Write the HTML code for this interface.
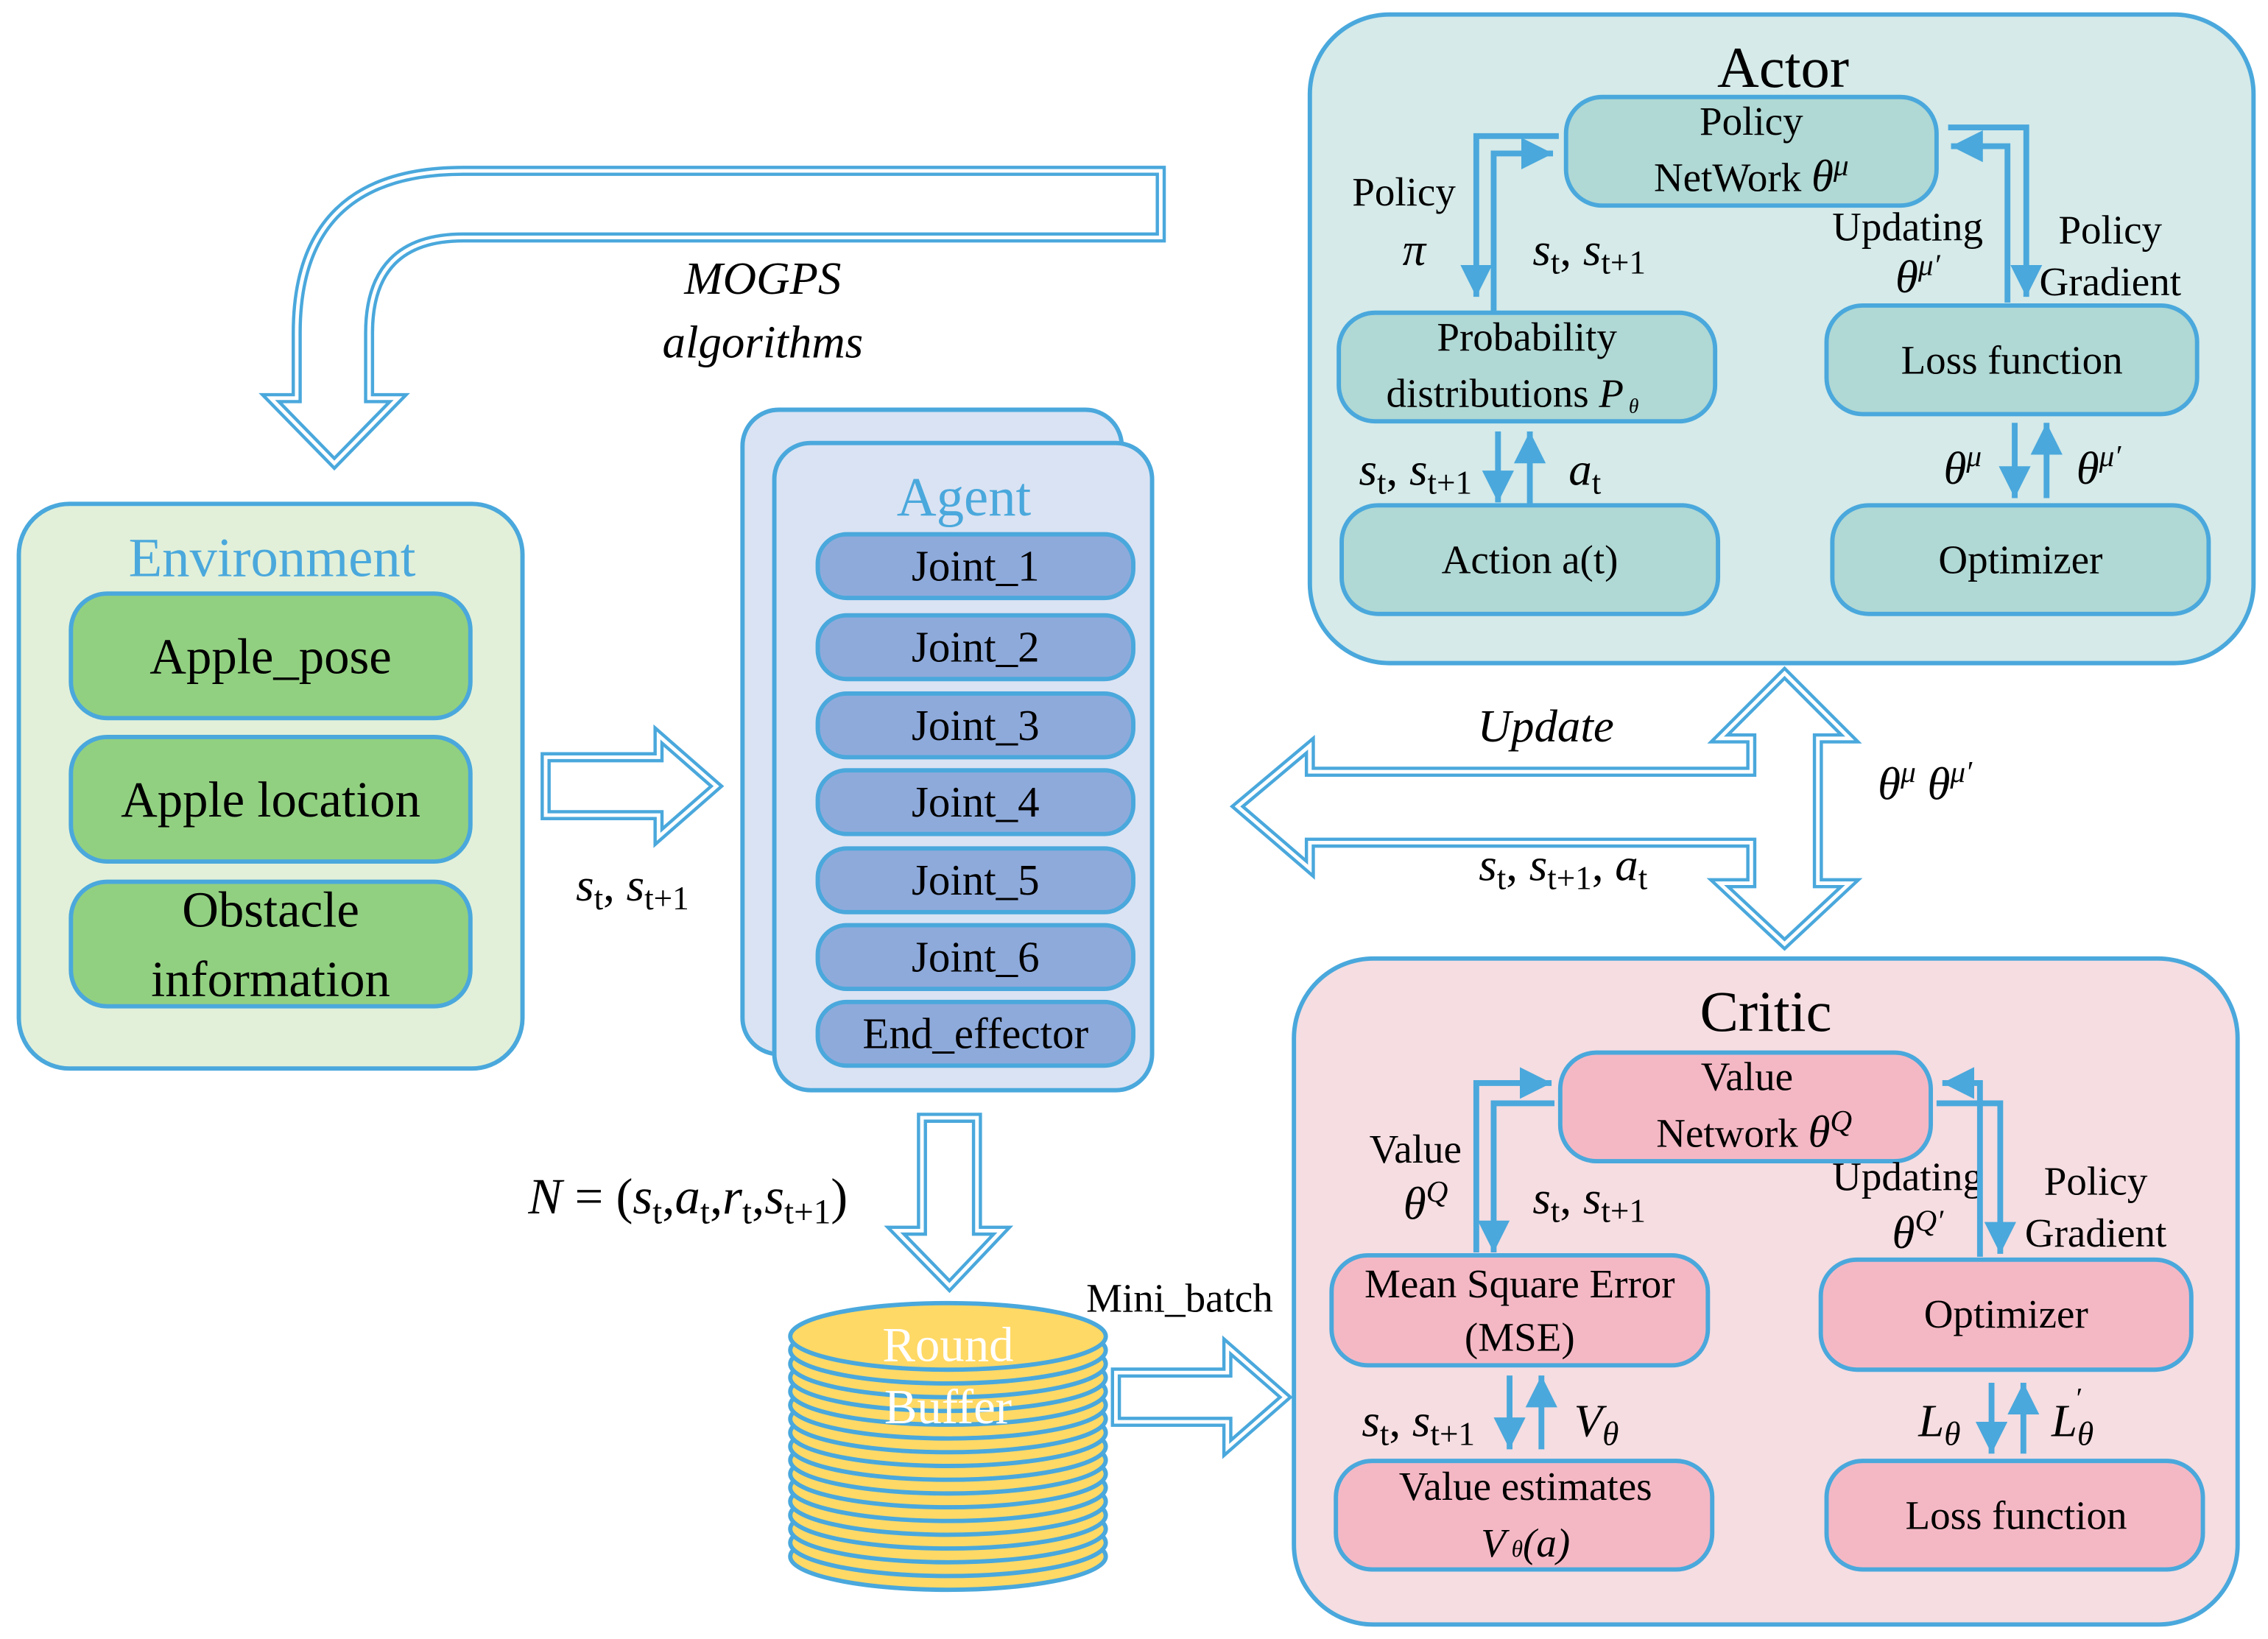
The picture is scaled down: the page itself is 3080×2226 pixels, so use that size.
<!DOCTYPE html>
<html><head><meta charset="utf-8"><style>
html,body{margin:0;padding:0;background:#fff;}
svg{display:block;}
text{font-family:"Liberation Serif",serif;fill:#000;}
</style></head><body>
<svg width="3080" height="2226" viewBox="0 0 1567 1132" preserveAspectRatio="none" xmlns="http://www.w3.org/2000/svg">
<defs>
<marker id="ah" markerWidth="24" markerHeight="22" refX="22" refY="11" orient="auto" markerUnits="userSpaceOnUse"><path d="M0,0 L22,11 L0,22z" fill="#4aa8dc"/></marker>
</defs>
<g stroke="#4aa8dc" fill="none">
<path id="p1" d="M802,118 L320,118 Q205,118 205,230 L205,275 L187,275 L231,320 L275,275 L255,275 L255,230 Q255,164 320,164 L802,164 Z" stroke-width="7"/>
<path d="M377,523 L455,523 L455,508 L495,543 L455,578 L455,563 L377,563 Z" stroke-width="7"/>
<path d="M637,772 L675,772 L675,850 L692,850 L656,888 L619,850 L637,850 Z" stroke-width="7"/>
<path d="M771,948 L848,948 L848,930 L888,965 L848,1000 L848,982 L771,982 Z" stroke-width="7"/>
<path d="M855,557 L905,515 L905,533 L1210,533 L1210,510 L1188,510 L1233,465 L1278,510 L1256,510 L1256,610 L1278,610 L1233,652 L1188,610 L1210,610 L1210,582 L905,582 L905,600 Z" stroke-width="7"/>
</g>
<g stroke="#fff" fill="none" stroke-width="2.5">
<path d="M802,118 L320,118 Q205,118 205,230 L205,275 L187,275 L231,320 L275,275 L255,275 L255,230 Q255,164 320,164 L802,164 Z"/>
<path d="M377,523 L455,523 L455,508 L495,543 L455,578 L455,563 L377,563 Z"/>
<path d="M637,772 L675,772 L675,850 L692,850 L656,888 L619,850 L637,850 Z"/>
<path d="M771,948 L848,948 L848,930 L888,965 L848,1000 L848,982 L771,982 Z"/>
<path d="M855,557 L905,515 L905,533 L1210,533 L1210,510 L1188,510 L1233,465 L1278,510 L1256,510 L1256,610 L1278,610 L1233,652 L1188,610 L1210,610 L1210,582 L905,582 L905,600 Z"/>
</g>
<text x="527" y="203" font-size="32" font-style="italic" text-anchor="middle">MOGPS</text>
<text x="527" y="247" font-size="32" font-style="italic" text-anchor="middle">algorithms</text>
<text x="437" y="622" font-size="32" text-anchor="middle"><tspan font-style="italic">s</tspan><tspan font-size="23" dy="6">t</tspan><tspan dy="-6">, </tspan><tspan font-style="italic">s</tspan><tspan font-size="23" dy="6">t+1</tspan></text>
<text x="1068" y="512" font-size="32" font-style="italic" text-anchor="middle">Update</text>
<text x="1080" y="608" font-size="32" text-anchor="middle"><tspan font-style="italic">s</tspan><tspan font-size="23" dy="6">t</tspan><tspan dy="-6">, </tspan><tspan font-style="italic">s</tspan><tspan font-size="23" dy="6">t+1</tspan><tspan dy="-6">, </tspan><tspan font-style="italic">a</tspan><tspan font-size="23" dy="6">t</tspan></text>
<text x="1330" y="552" font-size="32" text-anchor="middle"><tspan font-style="italic">θ</tspan><tspan font-size="21" dy="-12" font-style="italic">μ</tspan><tspan dy="12">  </tspan><tspan font-style="italic">θ</tspan><tspan font-size="21" dy="-12" font-style="italic">μ′</tspan></text>
<text x="365" y="838" font-size="35"><tspan font-style="italic">N</tspan> = (<tspan font-style="italic">s</tspan><tspan font-size="24" dy="7">t</tspan><tspan dy="-7">,</tspan><tspan font-style="italic">a</tspan><tspan font-size="24" dy="7">t</tspan><tspan dy="-7">,</tspan><tspan font-style="italic">r</tspan><tspan font-size="24" dy="7">t</tspan><tspan dy="-7">,</tspan><tspan font-style="italic">s</tspan><tspan font-size="24" dy="7">t+1</tspan><tspan dy="-7">)</tspan></text>
<text x="815" y="906" font-size="28" text-anchor="middle">Mini_batch</text>

<rect x="13" y="348" width="348" height="390" rx="35" fill="#e2f0d9" stroke="#4aa8dc" stroke-width="3"/>
<text x="188" y="398" font-size="38" text-anchor="middle" style="fill:#4aa8dc">Environment</text>
<g fill="#92d081" stroke="#4aa8dc" stroke-width="3">
<rect x="49" y="410" width="276" height="86" rx="25"/>
<rect x="49" y="509" width="276" height="86" rx="25"/>
<rect x="49" y="609" width="276" height="86" rx="25"/>
</g>
<g font-size="35" text-anchor="middle">
<text x="187" y="465">Apple_pose</text>
<text x="187" y="564">Apple location</text>
<text x="187" y="640">Obstacle</text>
<text x="187" y="688">information</text>
</g>

<rect x="513" y="283" width="262" height="445" rx="25" fill="#dae3f3" stroke="#4aa8dc" stroke-width="3"/>
<rect x="535" y="306" width="261" height="447" rx="25" fill="#dae3f3" stroke="#4aa8dc" stroke-width="3"/>
<text x="666" y="356" font-size="38" text-anchor="middle" style="fill:#4aa8dc">Agent</text>
<g fill="#8eaadb" stroke="#4aa8dc" stroke-width="3">
<rect x="565" y="369" width="218" height="44" rx="20"/>
<rect x="565" y="425" width="218" height="44" rx="20"/>
<rect x="565" y="479" width="218" height="44" rx="20"/>
<rect x="565" y="532" width="218" height="44" rx="20"/>
<rect x="565" y="586" width="218" height="44" rx="20"/>
<rect x="565" y="639" width="218" height="44" rx="20"/>
<rect x="565" y="692" width="218" height="44" rx="20"/>
</g>
<g font-size="30" text-anchor="middle">
<text x="674" y="401">Joint_1</text>
<text x="674" y="457">Joint_2</text>
<text x="674" y="511">Joint_3</text>
<text x="674" y="564">Joint_4</text>
<text x="674" y="618">Joint_5</text>
<text x="674" y="671">Joint_6</text>
<text x="674" y="724">End_effector</text>
</g>

<g fill="#ffd966" stroke="#4aa8dc" stroke-width="3">
<ellipse cx="655" cy="1075" rx="109" ry="23"/>
<ellipse cx="655" cy="1065.5" rx="109" ry="23"/>
<ellipse cx="655" cy="1056" rx="109" ry="23"/>
<ellipse cx="655" cy="1046.5" rx="109" ry="23"/>
<ellipse cx="655" cy="1037" rx="109" ry="23"/>
<ellipse cx="655" cy="1027.5" rx="109" ry="23"/>
<ellipse cx="655" cy="1018" rx="109" ry="23"/>
<ellipse cx="655" cy="1008.5" rx="109" ry="23"/>
<ellipse cx="655" cy="999" rx="109" ry="23"/>
<ellipse cx="655" cy="989.5" rx="109" ry="23"/>
<ellipse cx="655" cy="980" rx="109" ry="23"/>
<ellipse cx="655" cy="970.5" rx="109" ry="23"/>
<ellipse cx="655" cy="961" rx="109" ry="23"/>
<ellipse cx="655" cy="951.5" rx="109" ry="23"/>
<ellipse cx="655" cy="942" rx="109" ry="23"/>
<ellipse cx="655" cy="932.5" rx="109" ry="23"/>
<ellipse cx="655" cy="923" rx="109" ry="23"/>
</g>
<text x="655" y="940" font-size="34" text-anchor="middle" style="fill:#fff">Round</text>
<text x="655" y="983" font-size="34" text-anchor="middle" style="fill:#fff">Buffer</text>

<rect x="905" y="10" width="652" height="448" rx="55" fill="#d5eae9" stroke="#4aa8dc" stroke-width="3"/>
<text x="1232" y="60" font-size="40" text-anchor="middle">Actor</text>
<g fill="#b0d8d4" stroke="#4aa8dc" stroke-width="3">
<rect x="1082" y="67" width="256" height="75" rx="25"/>
<rect x="925" y="216" width="260" height="75" rx="25"/>
<rect x="1262" y="211" width="256" height="75" rx="25"/>
<rect x="927" y="349" width="260" height="75" rx="25"/>
<rect x="1266" y="349" width="260" height="75" rx="25"/>
</g>
<g font-size="28" text-anchor="middle">
<text x="1210" y="93">Policy</text>
<text x="1210" y="132">NetWork <tspan font-style="italic" font-size="31">θ</tspan><tspan font-size="21" dy="-11" font-style="italic">μ</tspan></text>
<text x="1055" y="242">Probability</text>
<text x="1045" y="281">distributions <tspan font-style="italic">P</tspan><tspan font-size="14" dy="4" font-style="italic"> θ</tspan></text>
<text x="1390" y="258">Loss function</text>
<text x="1057" y="396">Action a(t)</text>
<text x="1396" y="396">Optimizer</text>
<text x="970" y="142">Policy</text>
<text x="977" y="183" font-style="italic" font-size="32">π</text>
<text x="1318" y="166">Updating</text>
<text x="1458" y="168">Policy</text>
<text x="1458" y="204">Gradient</text>
</g>
<g font-size="32" text-anchor="middle">
<text x="1098" y="183"><tspan font-style="italic">s</tspan><tspan font-size="23" dy="6">t</tspan><tspan dy="-6">, </tspan><tspan font-style="italic">s</tspan><tspan font-size="23" dy="6">t+1</tspan></text>
<text x="1325" y="202"><tspan font-style="italic">θ</tspan><tspan font-size="21" dy="-12" font-style="italic">μ′</tspan></text>
<text x="978" y="335"><tspan font-style="italic">s</tspan><tspan font-size="23" dy="6">t</tspan><tspan dy="-6">, </tspan><tspan font-style="italic">s</tspan><tspan font-size="23" dy="6">t+1</tspan></text>
<text x="1095" y="335"><tspan font-style="italic">a</tspan><tspan font-size="23" dy="6">t</tspan></text>
<text x="1356" y="334"><tspan font-style="italic">θ</tspan><tspan font-size="21" dy="-12" font-style="italic">μ</tspan></text>
<text x="1450" y="334"><tspan font-style="italic">θ</tspan><tspan font-size="21" dy="-12" font-style="italic">μ′</tspan></text>
</g>
<g stroke="#4aa8dc" stroke-width="4" fill="none" marker-end="url(#ah)">
<polyline points="1077,94 1020,94 1020,205"/>
<polyline points="1032,216 1032,106 1073,106"/>
<polyline points="1346,88 1400,88 1400,205"/>
<polyline points="1387,209 1387,101 1348,101"/>
<line x1="1035" y1="298" x2="1035" y2="347"/>
<line x1="1057" y1="349" x2="1057" y2="298"/>
<line x1="1392" y1="292" x2="1392" y2="344"/>
<line x1="1414" y1="344" x2="1414" y2="292"/>
</g>

<rect x="894" y="662" width="652" height="460" rx="55" fill="#f5dde1" stroke="#4aa8dc" stroke-width="3"/>
<text x="1220" y="712" font-size="40" text-anchor="middle">Critic</text>
<g fill="#f4b8c4" stroke="#4aa8dc" stroke-width="3">
<rect x="1078" y="727" width="256" height="75" rx="25"/>
<rect x="920" y="867" width="260" height="76" rx="25"/>
<rect x="1258" y="870" width="256" height="76" rx="25"/>
<rect x="923" y="1009" width="260" height="75" rx="25"/>
<rect x="1262" y="1009" width="260" height="75" rx="25"/>
</g>
<g font-size="28" text-anchor="middle">
<text x="1207" y="753">Value</text>
<text x="1212" y="792">Network <tspan font-style="italic" font-size="31">θ</tspan><tspan font-size="21" dy="-11" font-style="italic">Q</tspan></text>
<text x="1050" y="896">Mean Square Error</text>
<text x="1050" y="933">(MSE)</text>
<text x="1386" y="917">Optimizer</text>
<text x="1054" y="1036">Value estimates</text>
<text x="1054" y="1075" font-style="italic">V<tspan font-size="16"> θ</tspan><tspan font-size="28">(a)</tspan></text>
<text x="1393" y="1056">Loss function</text>
<text x="978" y="803">Value</text>
<text x="1318" y="822">Updating</text>
<text x="1448" y="825">Policy</text>
<text x="1448" y="861">Gradient</text>
</g>
<g font-size="32" text-anchor="middle">
<text x="985" y="842"><tspan font-style="italic">θ</tspan><tspan font-size="21" dy="-12" font-style="italic">Q</tspan></text>
<text x="1098" y="838"><tspan font-style="italic">s</tspan><tspan font-size="23" dy="6">t</tspan><tspan dy="-6">, </tspan><tspan font-style="italic">s</tspan><tspan font-size="23" dy="6">t+1</tspan></text>
<text x="1325" y="862"><tspan font-style="italic">θ</tspan><tspan font-size="21" dy="-12" font-style="italic">Q′</tspan></text>
<text x="980" y="992"><tspan font-style="italic">s</tspan><tspan font-size="23" dy="6">t</tspan><tspan dy="-6">, </tspan><tspan font-style="italic">s</tspan><tspan font-size="23" dy="6">t+1</tspan></text>
<text x="1103" y="992"><tspan font-style="italic">V</tspan><tspan font-size="23" dy="6" font-style="italic">θ</tspan></text>
<text x="1340" y="992"><tspan font-style="italic">L</tspan><tspan font-size="23" dy="6" font-style="italic">θ</tspan></text>
<text x="1432" y="992"><tspan font-style="italic">L</tspan><tspan font-size="23" dy="6" font-style="italic">θ</tspan><tspan font-size="20" dx="-12" dy="-26">′</tspan></text>
</g>
<g stroke="#4aa8dc" stroke-width="4" fill="none" marker-end="url(#ah)">
<polyline points="1020,865 1020,748 1072,748"/>
<polyline points="1074,762 1032,762 1032,865"/>
<polyline points="1368,868 1368,748 1342,748"/>
<polyline points="1338,762 1382,762 1382,866"/>
<line x1="1043" y1="950" x2="1043" y2="1001"/>
<line x1="1065" y1="1001" x2="1065" y2="950"/>
<line x1="1376" y1="955" x2="1376" y2="1004"/>
<line x1="1398" y1="1004" x2="1398" y2="955"/>
</g>
</svg>
</body></html>
